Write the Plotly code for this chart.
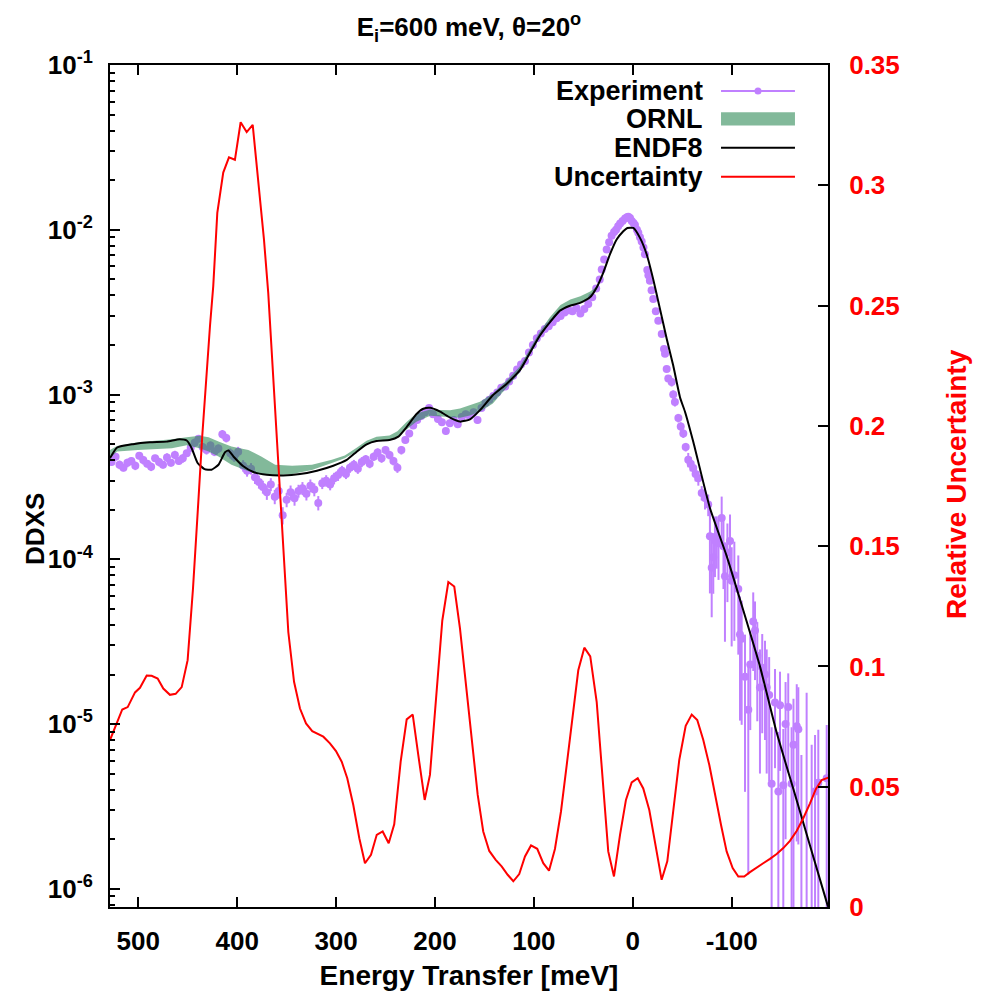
import plotly.graph_objects as go

# ---------------- data ----------------
# Experiment: energy transfer [meV], DDXS, relative error
exp_E = [
    527, 523, 519, 515, 511, 507, 503, 499, 495, 491,
    487, 483, 479, 475, 471, 467, 463, 459, 455, 451,
    447, 443, 439, 435, 431, 427, 423, 419, 415, 411, 407, 403, 399,
    394, 390, 386, 382, 378, 374, 370, 366, 362, 358,
    354, 350, 346, 342, 338, 334, 330, 326, 322, 318,
    314, 310, 306, 302, 298,
    294, 290, 286, 282, 278, 274, 270, 266, 262, 258,
    254, 250, 246, 242, 238, 234, 230, 226, 222, 218,
    214, 210, 206, 202,
    197, 193, 189, 185, 181, 177, 173, 169, 165, 161,
    157, 153, 149, 145, 141, 137, 133, 129, 125, 121,
    117, 113, 109, 105, 101, 97, 93, 89, 85, 81,
    77, 73, 69, 65, 61, 57, 53, 49, 45, 41,
    37,
    33.4, 31.4, 28.9, 26.4, 23.9, 21.4, 18.9, 16.9, 14.8, 12.8,
    10.3, 7.8, 5.8, 4.5, 2.8, 1.1, -0.7, -2.2, -4.2, -5.6,
    -7.3, -9.0, -10.8, -12.3, -14.7, -15.8, -17.3, -19.0, -20.7, -23.3,
    -25.8, -29.3, -31.6, -32.6, -34.3, -35.9,
    -39.3, -40.9, -42.6, -46.1, -48.5, -51.1, -53.5, -56.1, -58.5, -61.1,
    -63.5, -66.3, -69.7, -73.0, -76.3, -78.0, -79.8, -81.4, -83.1, -84.9,
    -86.7, -89.9, -91.7, -93.2, -95.7, -98.3, -100.0, -102.7, -106.7, -108.4,
    -110.1, -113.5, -116.8, -118.8, -121.8, -123.6, -125.9, -128.6, -130.9, -133.7,
    -135.4, -137.9, -140.4, -143.8, -147.2, -148.9, -152.2, -154.5, -157.2, -160.6,
    -162.5, -165.8, -167.4, -170.5, -175.8, -180.9, -184.3, -187.6, -196.1,
]
exp_ddxs = [
    3.9e-4, 4.2e-4, 3.75e-4, 3.6e-4, 3.85e-4, 3.95e-4, 3.7e-4, 4.25e-4, 4.0e-4, 3.8e-4,
    3.65e-4, 4.1e-4, 3.9e-4, 3.75e-4, 4.15e-4, 3.85e-4, 4.3e-4, 3.95e-4, 4.1e-4, 4.4e-4,
    4.75e-4, 5.1e-4, 5.4e-4, 4.8e-4, 4.6e-4, 4.9e-4, 4.5e-4, 4.7e-4, 5.75e-4, 5.45e-4, 4.4e-4, 4.2e-4, 4.5e-4,
    3.7e-4, 3.45e-4, 3.55e-4, 3.15e-4, 2.95e-4, 2.75e-4, 2.55e-4, 2.85e-4, 2.4e-4, 2.6e-4,
    1.85e-4, 2.3e-4, 2.55e-4, 2.35e-4, 2.6e-4, 2.7e-4, 2.5e-4, 2.8e-4, 2.65e-4, 2.2e-4,
    2.9e-4, 3.0e-4, 2.85e-4, 3.1e-4, 3.25e-4,
    3.45e-4, 3.3e-4, 3.6e-4, 3.75e-4, 3.55e-4, 3.9e-4, 4.05e-4, 3.8e-4, 4.2e-4, 4.45e-4,
    4.1e-4, 4.6e-4, 4.3e-4, 3.95e-4, 3.6e-4, 4.6e-4, 5.3e-4, 5.8e-4, 6.5e-4, 7.0e-4,
    7.4e-4, 7.8e-4, 8.3e-4, 7.6e-4,
    7.1e-4, 6.8e-4, 6.0e-4, 6.7e-4, 7.0e-4, 6.6e-4, 7.3e-4, 7.6e-4, 7.4e-4, 7.8e-4,
    7.0e-4, 8.3e-4, 8.9e-4, 9.3e-4, 9.8e-4, 1.03e-3, 1.1e-3, 1.12e-3, 1.2e-3, 1.3e-3,
    1.42e-3, 1.52e-3, 1.6e-3, 1.8e-3, 2.0e-3, 2.2e-3, 2.35e-3, 2.5e-3, 2.6e-3, 2.75e-3,
    2.9e-3, 3.0e-3, 3.15e-3, 3.25e-3, 3.2e-3, 3.35e-3, 3.1e-3, 3.3e-3, 3.55e-3, 3.9e-3,
    4.4e-3,
    5.0e-3, 5.75e-3, 6.6e-3, 7.6e-3, 8.4e-3, 9.2e-3, 9.7e-3, 1.0e-2, 1.05e-2, 1.09e-2,
    1.13e-2, 1.17e-2, 1.19e-2, 1.2e-2, 1.18e-2, 1.13e-2, 1.1e-2, 1.07e-2, 1.0e-2, 9.6e-3,
    9.0e-3, 8.5e-3, 7.8e-3, 7.1e-3, 5.7e-3, 5.3e-3, 4.9e-3, 4.3e-3, 3.8e-3, 3.2e-3,
    2.8e-3, 2.33e-3, 1.89e-3, 1.77e-3, 1.43e-3, 1.25e-3,
    1.19e-3, 1.0e-3, 9.0e-4, 7.2e-4, 6.4e-4, 5.8e-4, 4.8e-4, 4.02e-4, 3.8e-4, 3.58e-4,
    3.3e-4, 3.11e-4, 2.53e-4, 2.36e-4, 2.15e-4, 1.38e-4, 8.9e-5, 1.03e-4, 1.3e-4, 1.35e-4,
    1.25e-4, 1.78e-4, 1.2e-4, 7.9e-5, 1.1e-4, 1.29e-4, 7.4e-5, 8.0e-5, 6.6e-5, 3.5e-5,
    3.3e-5, 1.94e-5, 1.22e-5, 2.3e-5, 4.2e-5, 3.7e-5, 2.6e-5, 1.67e-5, 2.2e-5, 2.0e-5,
    1.67e-5, 1.5e-5, 4.35e-6, 1.35e-5, 3.9e-6, 1.3e-5, 4.25e-6, 1.0e-5, 1.27e-5, 4.35e-6,
    7.5e-6, 9.7e-6, 9.3e-6, 5e-7, 5e-7, 5e-7, 3.9e-6, 4.4e-6, 4.7e-6,
]
exp_relerr = [
    .05, .05, .06, .05, .06, .05, .06, .05, .06, .05,
    .06, .05, .06, .05, .06, .05, .06, .05, .06, .05,
    .06, .06, .05, .06, .06, .06, .06, .06, .06, .06, .07, .07, .07,
    .08, .08, .08, .09, .09, .09, .10, .09, .10, .10,
    .12, .10, .10, .10, .09, .09, .09, .09, .09, .10,
    .08, .08, .08, .08, .08,
    .07, .07, .07, .07, .07, .07, .06, .06, .06, .06,
    .06, .06, .06, .06, .07, .06, .05, .05, .05, .05,
    .05, .05, .05, .05,
    .05, .05, .05, .05, .05, .05, .05, .05, .05, .05,
    .05, .04, .04, .04, .04, .04, .04, .04, .04, .04,
    .04, .03, .03, .03, .03, .03, .03, .03, .03, .03,
    .03, .03, .03, .03, .03, .03, .03, .03, .03, .02,
    .02,
    .02, .02, .02, .02, .02, .02, .02, .02, .02, .02,
    .02, .02, .02, .02, .02, .02, .02, .02, .02, .02,
    .02, .02, .02, .02, .02, .02, .02, .02, .02, .02,
    .02, .02, .02, .02, .02, .02,
    .06, .06, .06, .06, .06, .06, .06, .10, .10, .10,
    .10, .10, .10, .15, .15, .55, .50, .40, .40, .35,
    .40, .35, .45, .60, .50, .45, .60, .60, .60, .70,
    .70, .80, .90, .60, .50, .50, .60, .70, .60, .60,
    .70, .70, 1.2, .60, 1.3, .60, 1.2, .80, .60, 1.2,
    .90, .80, .80, 12, 30, 14, 1.2, 1.1, 1.1,
]

# ORNL band (lower / upper DDXS)
ornl_E = [
    528.6, 521.4, 500.3, 483.2, 466.1, 451.0, 438.0, 428.9, 418.9, 405.8,
    388.7, 375.7, 361.6, 344.5, 324.4, 304.3, 291.2, 279.2, 269.1, 259.1,
    246.0, 238.0, 229.0, 218.9, 204.8, 194.8, 184.7, 174.7, 164.6, 154.5,
    141.5, 127.4, 114.3, 104.3, 94.2, 84.2, 73.1, 63.1, 53.0, 43.0,
    37.0,
]
ornl_lo = [
    4.1e-4, 4.51e-4, 4.61e-4, 4.68e-4, 4.72e-4, 4.93e-4, 4.72e-4, 4.51e-4, 4.21e-4, 3.75e-4,
    3.42e-4, 3.26e-4, 3.24e-4, 3.30e-4, 3.49e-4, 3.84e-4, 4.11e-4, 4.52e-4, 4.99e-4, 5.23e-4,
    5.3e-4, 5.55e-4, 6.09e-4, 6.84e-4, 7.44e-4, 7.37e-4, 7.34e-4, 7.24e-4, 7.47e-4, 7.87e-4,
    8.83e-4, 1.1e-3, 1.36e-3, 1.74e-3, 2.22e-3, 2.7e-3, 3.22e-3, 3.46e-3, 3.62e-3, 3.92e-3,
    4.38e-3,
]
ornl_hi = [
    4.6e-4, 4.87e-4, 5.13e-4, 5.23e-4, 5.36e-4, 5.51e-4, 5.63e-4, 5.51e-4, 5.18e-4, 4.84e-4,
    4.61e-4, 4.21e-4, 3.75e-4, 3.70e-4, 3.75e-4, 4.02e-4, 4.27e-4, 4.75e-4, 5.25e-4, 5.55e-4,
    5.65e-4, 5.98e-4, 6.78e-4, 7.68e-4, 8.12e-4, 8.06e-4, 8.04e-4, 8.23e-4, 8.58e-4, 9.03e-4,
    1.014e-3, 1.22e-3, 1.48e-3, 1.88e-3, 2.4e-3, 2.92e-3, 3.5e-3, 3.78e-3, 3.95e-3, 4.22e-3,
    4.5e-3,
]

# ENDF8 curve
endf_E = [
    528.6, 521.4, 505.3, 488.2, 471.1, 458.1, 451.0, 446.0, 440.0, 433.0,
    425.9, 418.9, 412.3, 408.8, 403.8, 393.8, 383.7, 370.1, 353.6, 336.5,
    319.4, 302.8, 289.2, 279.2, 269.1, 259.1, 246.0, 237.0, 229.0, 218.9,
    211.8, 204.8, 194.8, 184.7, 174.7, 164.6, 154.5, 141.5, 127.4, 114.3,
    107.3, 93.9, 83.7, 73.6, 63.5, 53.3, 43.3, 36.5, 29.8, 23.1,
    16.3, 9.6, 5.5, -0.5, -7.3, -14.1, -20.7, -27.5, -34.3, -40.9,
    -47.8, -52.8, -61.1, -78.0, -94.9, -111.8, -128.6, -145.5, -162.3, -179.1,
    -197.4,
]
endf_ddxs = [
    4.11e-4, 4.77e-4, 5.0e-4, 5.13e-4, 5.18e-4, 5.36e-4, 5.26e-4, 4.72e-4, 3.84e-4, 3.53e-4,
    3.5e-4, 3.75e-4, 4.47e-4, 4.57e-4, 4.21e-4, 3.67e-4, 3.39e-4, 3.26e-4, 3.23e-4, 3.29e-4,
    3.45e-4, 3.70e-4, 4.01e-4, 4.5e-4, 4.99e-4, 5.23e-4, 5.3e-4, 5.55e-4, 6.3e-4, 7.6e-4,
    8.2e-4, 8.31e-4, 7.87e-4, 7.24e-4, 6.85e-4, 7.07e-4, 8.04e-4, 9.9e-4, 1.164e-3, 1.40e-3,
    1.65e-3, 2.28e-3, 2.75e-3, 3.23e-3, 3.46e-3, 3.6e-3, 3.89e-3, 4.47e-3, 5.5e-3, 7.08e-3,
    8.72e-3, 9.8e-3, 1.026e-2, 1.026e-2, 8.93e-3, 7.08e-3, 5.0e-3, 3.31e-3, 2.18e-3, 1.5e-3,
    9.6e-4, 7.87e-4, 5.19e-4, 2.05e-4, 1.05e-4, 4.89e-5, 2.24e-5, 8.88e-6, 4.05e-6, 1.84e-6,
    7.8e-7,
]

# Relative uncertainty (right axis)
unc_E = [
    528.6, 516.2, 510.7, 503.3, 498.3, 491.5, 486.5, 480.4, 474.7, 468.0,
    462.2, 456.1, 450.1, 444.7, 439.3, 435.3, 427.5, 424.2, 420.1, 414.1,
    408.3, 402.3, 396.5, 390.4, 384.3, 378.7, 372.9, 368.6, 365.1, 361.1,
    353.4, 348.3, 342.5, 336.5, 330.4, 324.1, 312.9, 306.2, 300.1, 294.3,
    288.7, 282.6, 276.5, 270.8, 264.7, 258.9, 252.9, 246.8, 241.2, 234.7,
    228.6, 222.5, 216.9, 210.4, 205.1, 199.0, 192.6, 186.5, 180.5, 174.7,
    168.7, 162.9, 156.8, 151.2, 145.1, 138.6, 132.6, 126.5, 120.8, 114.8,
    109.0, 102.9, 96.6, 90.5, 84.7, 78.7, 72.6, 66.8, 60.8, 55.1,
    49.0, 43.0, 36.5, 30.4, 24.8, 19.0, 12.9, 6.9, 1.1, -5.0,
    -10.6, -16.7, -23.2, -29.2, -34.9, -41.0, -47.0, -53.5, -59.6, -65.2,
    -71.3, -77.4, -83.1, -89.2, -94.9, -101.0, -106.7, -112.7, -118.5, -125.3,
    -131.9, -138.7, -145.5, -152.2, -158.9, -165.7, -172.4, -179.2, -185.2, -191.0,
    -197.7,
]
unc_rel = [
    0.0694, 0.0821, 0.0831, 0.0892, 0.0911, 0.0962, 0.0961, 0.0950, 0.0908, 0.0882,
    0.0886, 0.0914, 0.1026, 0.1323, 0.1684, 0.1959, 0.2415, 0.2581, 0.2885, 0.3053,
    0.3116, 0.3106, 0.3262, 0.3221, 0.3251, 0.3030, 0.2774, 0.2553, 0.2318, 0.2028,
    0.1502, 0.1143, 0.0936, 0.0825, 0.0763, 0.0731, 0.0708, 0.0680, 0.0648, 0.0604,
    0.0535, 0.0424, 0.0286, 0.0182, 0.0217, 0.0300, 0.0314, 0.0265, 0.0344, 0.0604,
    0.0780, 0.0800, 0.0632, 0.0445, 0.0549, 0.0853, 0.1191, 0.1351, 0.1332, 0.1157,
    0.0922, 0.0687, 0.0466, 0.0314, 0.0233, 0.0196, 0.0169, 0.0134, 0.0107, 0.0137,
    0.0210, 0.0256, 0.0242, 0.0182, 0.0151, 0.0241, 0.0397, 0.0590, 0.0797, 0.0984,
    0.1078, 0.1042, 0.0853, 0.0535, 0.0231, 0.0127, 0.0300, 0.0445, 0.0518, 0.0535,
    0.0493, 0.0403, 0.0258, 0.0113, 0.0190, 0.0411, 0.0611, 0.0753, 0.0800, 0.0777,
    0.0694, 0.0590, 0.0466, 0.0342, 0.0231, 0.0162, 0.0127, 0.0127, 0.0145, 0.0165,
    0.0182, 0.0200, 0.0220, 0.0245, 0.0275, 0.0316, 0.0369, 0.0431, 0.0491, 0.0528,
    0.0538,
]

x_ticks = [500, 400, 300, 200, 100, 0, -100]
x_ticktext = ["500", "400", "300", "200", "100", "0", "-100"]
y_ticks = [1e-6, 1e-5, 1e-4, 1e-3, 1e-2, 1e-1]
y_ticktext = ["10<sup>-6</sup>", "10<sup>-5</sup>", "10<sup>-4</sup>",
              "10<sup>-3</sup>", "10<sup>-2</sup>", "10<sup>-1</sup>"]
y2_ticks = [0, 0.05, 0.1, 0.15, 0.2, 0.25, 0.3, 0.35]
y2_ticktext = ["0", "0.05", "0.1", "0.15", "0.2", "0.25", "0.3", "0.35"]
legend_labels = ["Experiment", "ORNL", "ENDF8", "Uncertainty"]

# ---------------- styling ----------------
PURPLE = "#c080ff"
GREEN_FILL = "rgba(46,139,87,0.6)"
FONT = "Liberation Sans, Arial, Helvetica, sans-serif"

err_abs = [v * r for v, r in zip(exp_ddxs, exp_relerr)]
minor_vals = [m * 10.0 ** e for e in range(-7, -1) for m in range(2, 10)]

fig = go.Figure()
fig.add_trace(go.Scatter(
    x=exp_E, y=exp_ddxs, mode="markers", name=legend_labels[0],
    marker=dict(color=PURPLE, size=8, line=dict(width=0)),
    error_y=dict(type="data", array=err_abs, color=PURPLE, thickness=2, width=0),
))
fig.add_trace(go.Scatter(
    x=ornl_E, y=ornl_lo, mode="lines", line=dict(width=0, color=GREEN_FILL),
    hoverinfo="skip", name=legend_labels[1] + " low",
))
fig.add_trace(go.Scatter(
    x=ornl_E, y=ornl_hi, mode="lines", fill="tonexty", fillcolor=GREEN_FILL,
    line=dict(width=0, color=GREEN_FILL), name=legend_labels[1],
))
fig.add_trace(go.Scatter(
    x=endf_E, y=endf_ddxs, mode="lines", name=legend_labels[2],
    line=dict(color="black", width=2, shape="spline", smoothing=0.5),
))
fig.add_trace(go.Scatter(
    x=unc_E, y=unc_rel, mode="lines", yaxis="y2", name=legend_labels[3],
    line=dict(color="red", width=2),
))

tickfont = dict(family=FONT, size=26, weight="bold", color="black")
fig.update_layout(
    width=983, height=998,
    margin=dict(l=110, r=155, t=65, b=89),
    paper_bgcolor="white", plot_bgcolor="white",
    showlegend=False,
    font=dict(family=FONT, size=24, color="black"),
    title=dict(text="<b>E<sub>i</sub>=600 meV, θ=20<sup>o</sup></b>",
               x=0.5, xref="paper", xanchor="center",
               y=1 - 27 / 998, yref="container", yanchor="middle",
               font=dict(family=FONT, size=26, color="black")),
    xaxis=dict(
        range=[528.6, -197.4], tickvals=x_ticks, ticktext=x_ticktext,
        ticks="inside", ticklen=10,
        tickwidth=1.5, tickcolor="black", showline=True, linewidth=2,
        linecolor="black", mirror="ticks", showgrid=False, zeroline=False,
        tickfont=tickfont, ticklabelstandoff=10,
        title=dict(text="<b>Energy Transfer [meV]</b>",
                   font=dict(family=FONT, size=28, color="black"), standoff=10),
    ),
    yaxis=dict(
        type="log", range=[-6.11, -1], tickvals=y_ticks, ticktext=y_ticktext,
        ticks="inside", ticklen=10, tickwidth=1.5, tickcolor="black",
        minor=dict(ticks="inside", ticklen=5, tickwidth=1.5, tickcolor="black",
                   tickvals=minor_vals, showgrid=False),
        showline=True, linewidth=2, linecolor="black", mirror=False,
        showgrid=False, zeroline=False, tickfont=tickfont, ticklabelstandoff=10,
    ),
    yaxis2=dict(
        overlaying="y", side="right", range=[0, 0.35], tickvals=y2_ticks,
        ticktext=y2_ticktext,
        ticks="inside", ticklen=10, tickwidth=1.5, tickcolor="black",
        showline=True, linewidth=2, linecolor="black", showgrid=False,
        zeroline=False, ticklabelstandoff=14,
        tickfont=dict(family=FONT, size=26, weight="bold", color="red"),
    ),
)

# axis titles placed as in the reference
fig.add_annotation(text="<b>DDXS</b>", textangle=-90, x=-0.1045, y=0.449,
                   xref="paper", yref="paper", xanchor="center", yanchor="middle",
                   showarrow=False, font=dict(family=FONT, size=26, color="black"))
fig.add_annotation(text="<b>Relative Uncertainty</b>", textangle=-90, x=1.1797, y=0.5024,
                   xref="paper", yref="paper", xanchor="center", yanchor="middle",
                   showarrow=False, font=dict(family=FONT, size=28, color="red"))

# ---------------- legend (text left of the sample, as in the reference) ----------------
leg_y = [0.9692, 0.936, 0.9017, 0.8673]
leg_x_text = 0.8287
leg_x0, leg_x1 = 0.851, 0.954
for lab, yy in zip(legend_labels, leg_y):
    fig.add_annotation(text="<b>" + lab + "</b>", x=leg_x_text, y=yy, xref="paper",
                       yref="paper", xanchor="right", yanchor="middle", showarrow=False,
                       font=dict(family=FONT, size=27, color="black"))
fig.add_shape(type="line", xref="paper", yref="paper", x0=leg_x0, x1=leg_x1,
              y0=leg_y[0], y1=leg_y[0], line=dict(color=PURPLE, width=2))
fig.add_shape(type="circle", xref="paper", yref="paper", x0=0.8976, x1=0.9074,
              y0=leg_y[0] - 0.0042, y1=leg_y[0] + 0.0042,
              fillcolor=PURPLE, line=dict(color=PURPLE, width=0))
fig.add_shape(type="rect", xref="paper", yref="paper", x0=leg_x0, x1=leg_x1,
              y0=leg_y[1] - 0.0078, y1=leg_y[1] + 0.0078,
              fillcolor=GREEN_FILL, line=dict(width=0))
fig.add_shape(type="line", xref="paper", yref="paper", x0=leg_x0, x1=leg_x1,
              y0=leg_y[2], y1=leg_y[2], line=dict(color="black", width=2))
fig.add_shape(type="line", xref="paper", yref="paper", x0=leg_x0, x1=leg_x1,
              y0=leg_y[3], y1=leg_y[3], line=dict(color="red", width=2))

fig.write_html("out.html")
